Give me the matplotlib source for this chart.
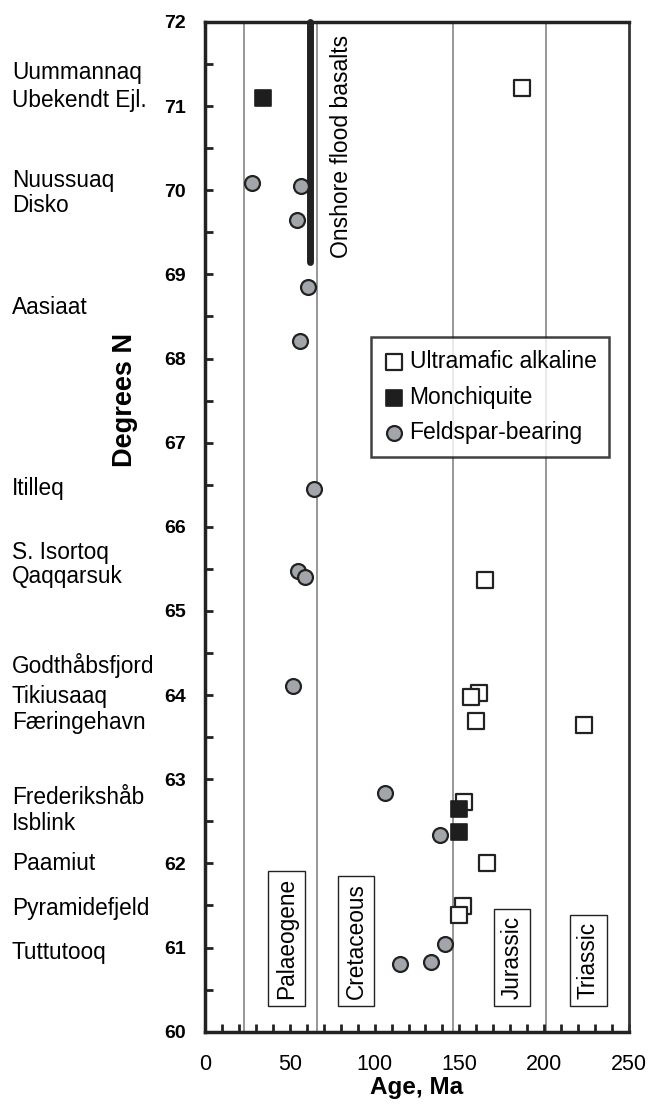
import matplotlib
matplotlib.use("Agg")
import matplotlib.pyplot as plt
from matplotlib.ticker import MultipleLocator

plt.rcParams['font.family'] = ['Liberation Sans', 'DejaVu Sans']

# open squares: ultramafic alkaline intrusions
ultra_age = [186.7, 165.0, 161.4, 156.9, 159.5, 223.7, 152.6, 166.4, 152.2, 150.0]
ultra_lat = [71.22, 65.37, 64.03, 63.98, 63.69, 63.64, 62.73, 62.00, 61.49, 61.39]

# filled squares: monchiquite
monch_age = [34.4, 149.6, 150.0]
monch_lat = [71.10, 62.65, 62.37]

# grey circles: feldspar-bearing
feld_age = [27.6, 56.5, 54.1, 61.0, 56.1, 64.4, 55.1, 58.7, 51.8,
            106.1, 138.8, 141.4, 115.2, 133.3]
feld_lat = [70.09, 70.05, 69.65, 68.85, 68.21, 66.45, 65.47, 65.40, 64.11,
            62.84, 62.34, 61.04, 60.81, 60.83]

# period boundaries (Ma) and labels
boundaries = [23, 66, 146, 201]
periods = ['Palaeogene', 'Cretaceous', 'Jurassic', 'Triassic']
period_x = [48, 89, 181, 226]

basalt_age = 62
basalt_lat = [69.15, 72.0]

places = ['Uummannaq', 'Ubekendt Ejl.', 'Nuussuaq', 'Disko', 'Aasiaat',
          'Itilleq', 'S. Isortoq', 'Qaqqarsuk', 'Godthåbsfjord', 'Tikiusaaq',
          'Færingehavn', 'Frederikshåb', 'Isblink', 'Paamiut',
          'Pyramidefjeld', 'Tuttutooq']
place_px = [72, 100, 180, 205, 307, 488, 552, 577, 665, 697, 722,
            797, 823, 863, 908, 953]

W, H = 648, 1105
fig = plt.figure(figsize=(W / 100, H / 100), dpi=100)
ax = fig.add_axes([205 / W, 1 - 1031.7 / H, (629 - 205) / W, (1031.7 - 22) / H])

for b in boundaries:
    ax.axvline(b, color='#7a7a7a', lw=1.1, zorder=1)

ax.plot([basalt_age, basalt_age], basalt_lat, color='#222222', lw=5,
        solid_capstyle='round', zorder=2, clip_on=False)

ax.scatter(ultra_age, ultra_lat, marker='s', s=125, facecolor='white',
           edgecolor='#222222', linewidth=1.6, zorder=3,
           label='Ultramafic alkaline')
ax.scatter(monch_age, monch_lat, marker='s', s=125, facecolor='#1e1e1e',
           edgecolor='#1e1e1e', linewidth=1.2, zorder=4, label='Monchiquite')
ax.scatter(feld_age, feld_lat, marker='o', s=115, facecolor='#a2a6aa',
           edgecolor='#222222', linewidth=1.6, zorder=5,
           label='Feldspar-bearing')

for name, x in zip(periods, period_x):
    ax.text(x, 60.39, name, rotation=90, ha='center', va='bottom',
            fontsize=16.3, zorder=6,
            bbox=dict(boxstyle='square,pad=0.3', facecolor='white',
                      edgecolor='#222222', linewidth=1))

ax.text(80.5, 71.85, 'Onshore flood basalts', rotation=90, ha='center',
        va='top', fontsize=16.5)

ax.set_xlim(0, 250)
ax.set_ylim(60, 72)
ax.xaxis.set_major_locator(MultipleLocator(50))
ax.xaxis.set_minor_locator(MultipleLocator(10))
ax.yaxis.set_major_locator(MultipleLocator(1))
ax.yaxis.set_minor_locator(MultipleLocator(0.5))
ax.tick_params(which='both', direction='in', width=2, color='#222222')
ax.tick_params(which='major', length=6)
ax.tick_params(which='minor', length=6)
ax.tick_params(axis='x', labelsize=15.5, pad=16)
ax.tick_params(axis='y', labelsize=14, pad=14)
for lab in ax.get_yticklabels():
    lab.set_fontweight('bold')

for side in ['left', 'bottom', 'top']:
    ax.spines[side].set_linewidth(2.5)
    ax.spines[side].set_color('#222222')
ax.spines['right'].set_linewidth(2)
ax.spines['right'].set_color('#333333')

ax.set_xlabel('Age, Ma', fontsize=17.5, fontweight='bold', labelpad=1)

fig.text(125 / W, 1 - 400 / H, 'Degrees N', rotation=90, ha='center',
         va='center', fontsize=19.5, fontweight='bold')

for name, py in zip(places, place_px):
    fig.text(12 / W, 1 - py / H, name, ha='left', va='center', fontsize=16.3)

leg = ax.legend(loc='upper right', bbox_to_anchor=(0.953, 0.6877),
                borderaxespad=0, fontsize=16.5, frameon=True, fancybox=False,
                edgecolor='#111111', handletextpad=0.25, handlelength=0.9,
                labelspacing=0.55, borderpad=0.55, scatterpoints=1)
leg.get_frame().set_linewidth(1.8)

fig.savefig('out.png', dpi=100)
